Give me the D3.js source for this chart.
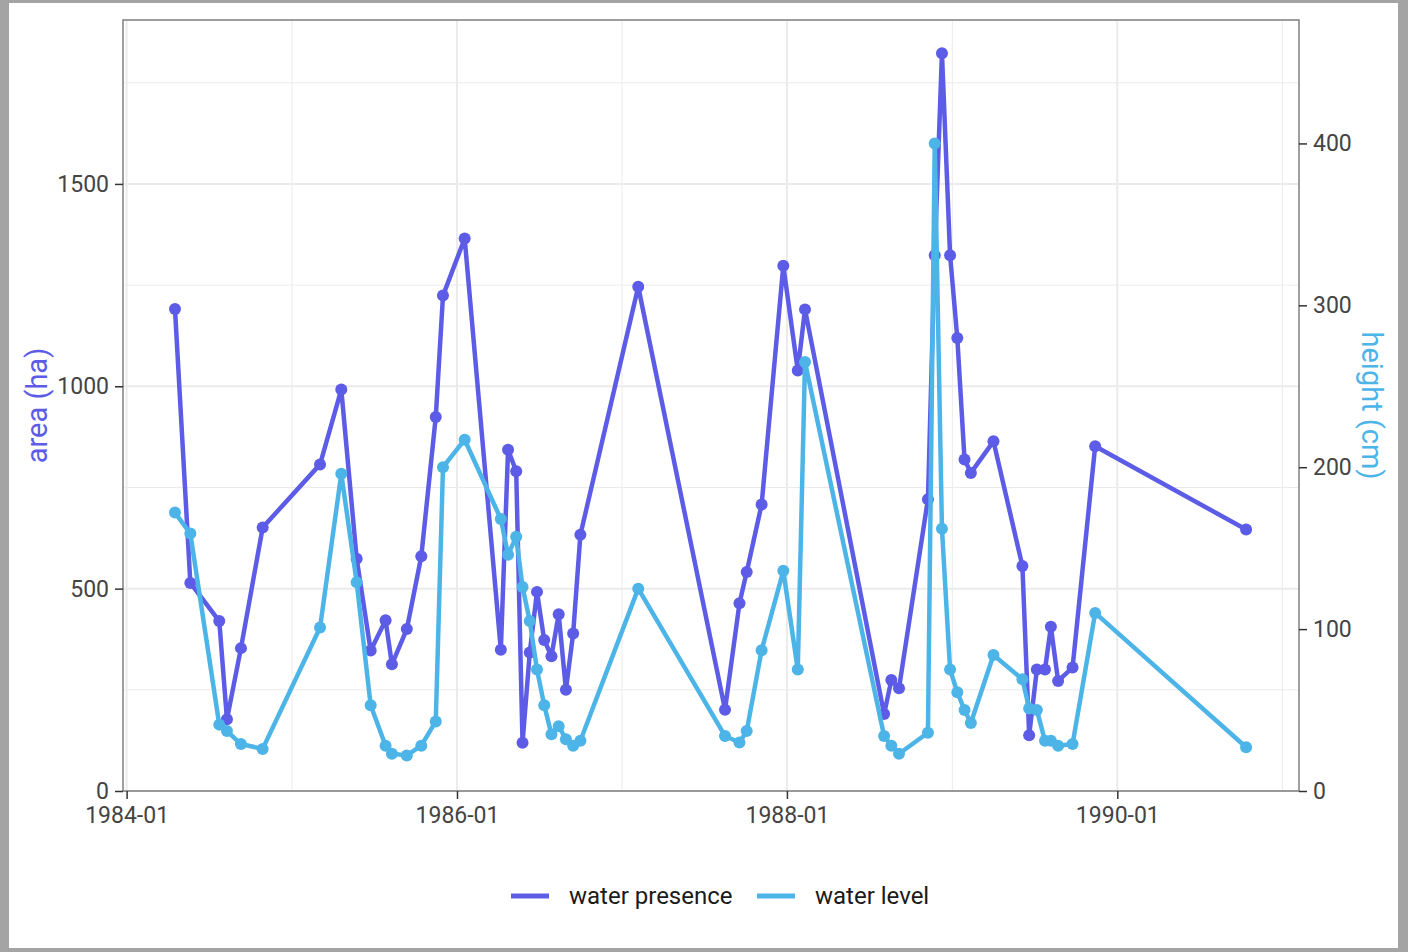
<!DOCTYPE html>
<html>
<head>
<meta charset="utf-8">
<script src="https://cdn.jsdelivr.net/npm/d3@7"></script>
<style>
  body { margin: 0; background: #a4a4a4; }
  svg { display: block; font-family: Roboto, "DejaVu Sans", sans-serif; }
</style>
</head>
<body>
<svg id="chart" width="1408" height="952"></svg>
<script>
// sample dates (both series measured on the same days)
var dates = [
  "1984-04-17","1984-05-21","1984-07-24","1984-08-10","1984-09-10","1984-10-28",
  "1985-03-04","1985-04-20","1985-05-24","1985-06-24","1985-07-27","1985-08-10",
  "1985-09-12","1985-10-14","1985-11-15","1985-12-01","1986-01-18","1986-04-08",
  "1986-04-24","1986-05-12","1986-05-26","1986-06-11","1986-06-27","1986-07-13",
  "1986-07-29","1986-08-14","1986-08-30","1986-09-15","1986-10-01","1987-02-06",
  "1987-08-17","1987-09-18","1987-10-04","1987-11-06","1987-12-24","1988-01-25",
  "1988-02-10","1988-08-03","1988-08-19","1988-09-05","1988-11-08","1988-11-23",
  "1988-12-09","1988-12-27","1989-01-12","1989-01-28","1989-02-11","1989-04-02",
  "1989-06-05","1989-06-20","1989-07-07","1989-07-25","1989-08-07","1989-08-23",
  "1989-09-24","1989-11-13","1990-10-13"
];

// water presence, area in ha
var area = [
  1191, 514, 420, 177, 353, 651,
  807, 992, 574, 347, 422, 313,
  400, 580, 924, 1224, 1365, 349,
  843, 790, 119, 342, 492, 373,
  333, 437, 250, 389, 633, 1246,
  201, 464, 541, 708, 1298, 1039,
  1190, 190, 274, 254, 721, 1324,
  1823, 1324, 1119, 819, 786, 864,
  556, 138, 300, 300, 406, 272,
  305, 852, 646
];

// water level, height in cm
var level = [
  172, 159, 41, 37, 29, 26,
  101, 196, 129, 53, 28, 23,
  22, 28, 43, 200, 217, 168,
  146, 157, 126, 105, 75, 53,
  35, 40, 32, 28, 31, 125,
  34, 30, 37, 87, 136, 75,
  265, 34, 28, 23, 36, 400,
  162, 75, 61, 50, 42, 84,
  69, 51, 50, 31, 31, 28,
  29, 110, 27
];

var seriesNames = ["water presence", "water level"];
var seriesColors = ["#5c5ce6", "#4db4e8"];

var areaTicks = [0, 500, 1000, 1500];
var areaMinor = [250, 750, 1250, 1750];
var levelTicks = [0, 100, 200, 300, 400];
var dateTicks = ["1984-01-01", "1986-01-01", "1988-01-01", "1990-01-01"];
var dateMinor = ["1985-01-01", "1987-01-01", "1989-01-01", "1991-01-01"];

var parse = d3.utcParse("%Y-%m-%d");

// panel edges
var panelL = 123, panelR = 1299, panelT = 20, panelB = 791;

var svg = d3.select("#chart");

// white sheet over the photo background
svg.append("rect")
  .attr("x", 9).attr("y", 3)
  .attr("width", 1389).attr("height", 945)
  .attr("fill", "#fff");

var x = d3.scaleUtc()
  .domain([parse("1983-12-24"), parse("1991-02-07")])
  .range([panelL, panelR]);

var yArea = d3.scaleLinear().domain([0, 1905]).range([panelB, panelT]);
var yLevel = d3.scaleLinear().domain([0, 1905 / 4]).range([panelB, panelT]);

// grid
var grid = svg.append("g");
grid.selectAll("line.hmin").data(areaMinor).enter().append("line")
  .attr("x1", panelL).attr("x2", panelR)
  .attr("y1", function(d) { return yArea(d); })
  .attr("y2", function(d) { return yArea(d); })
  .attr("stroke", "#ebebeb").attr("stroke-width", 1);
grid.selectAll("line.vmin").data(dateMinor).enter().append("line")
  .attr("y1", panelT).attr("y2", panelB)
  .attr("x1", function(d) { return x(parse(d)); })
  .attr("x2", function(d) { return x(parse(d)); })
  .attr("stroke", "#ebebeb").attr("stroke-width", 1);
grid.selectAll("line.hmaj").data(areaTicks).enter().append("line")
  .attr("x1", panelL).attr("x2", panelR)
  .attr("y1", function(d) { return yArea(d); })
  .attr("y2", function(d) { return yArea(d); })
  .attr("stroke", "#ebebeb").attr("stroke-width", 2);
grid.selectAll("line.vmaj").data(dateTicks).enter().append("line")
  .attr("y1", panelT).attr("y2", panelB)
  .attr("x1", function(d) { return x(parse(d)); })
  .attr("x2", function(d) { return x(parse(d)); })
  .attr("stroke", "#ebebeb").attr("stroke-width", 2);

// series
var rows = dates.map(function(d, i) {
  return { date: parse(d), area: area[i], level: level[i] };
});
var series = [
  { key: "area", scale: yArea },
  { key: "level", scale: yLevel }
];

series.forEach(function(s, k) {
  var line = d3.line()
    .x(function(d) { return x(d.date); })
    .y(function(d) { return s.scale(d[s.key]); });
  svg.append("path")
    .datum(rows)
    .attr("d", line)
    .attr("fill", "none")
    .attr("stroke", seriesColors[k])
    .attr("stroke-width", 4.5)
    .attr("stroke-linejoin", "round");
  svg.append("g").selectAll("circle")
    .data(rows).enter().append("circle")
    .attr("cx", function(d) { return x(d.date); })
    .attr("cy", function(d) { return s.scale(d[s.key]); })
    .attr("r", 6)
    .attr("fill", seriesColors[k]);
});

// panel border
svg.append("rect")
  .attr("x", panelL).attr("y", panelT)
  .attr("width", panelR - panelL).attr("height", panelB - panelT)
  .attr("fill", "none")
  .attr("stroke", "#7f7f7f")
  .attr("stroke-width", 1.5);

function styleAxis(g) {
  g.select(".domain").remove();
  g.selectAll(".tick line").attr("stroke", "#333").attr("stroke-width", 1.5);
  g.selectAll(".tick text")
    .attr("fill", "#444")
    .style("font-size", "23px")
    .style("font-family", "Roboto, sans-serif");
}

svg.append("g")
  .attr("transform", "translate(" + panelL + ",0)")
  .call(d3.axisLeft(yArea).tickValues(areaTicks).tickFormat(d3.format("d"))
    .tickSize(8).tickPadding(6))
  .call(styleAxis);

svg.append("g")
  .attr("transform", "translate(" + panelR + ",0)")
  .call(d3.axisRight(yLevel).tickValues(levelTicks).tickFormat(d3.format("d"))
    .tickSize(8).tickPadding(6))
  .call(styleAxis);

svg.append("g")
  .attr("transform", "translate(0," + panelB + ")")
  .call(d3.axisBottom(x).tickValues(dateTicks.map(parse))
    .tickFormat(d3.utcFormat("%Y-%m")).tickSize(8).tickPadding(8))
  .call(styleAxis);

// axis titles
svg.append("text")
  .attr("transform", "translate(37," + (panelT + panelB) / 2 + ") rotate(-90)")
  .attr("text-anchor", "middle")
  .attr("dy", "0.35em")
  .attr("fill", seriesColors[0])
  .style("font-size", "29px")
  .text("area (ha)");

svg.append("text")
  .attr("transform", "translate(1372," + (panelT + panelB) / 2 + ") rotate(90)")
  .attr("text-anchor", "middle")
  .attr("dy", "0.35em")
  .attr("fill", seriesColors[1])
  .style("font-size", "29px")
  .text("height (cm)");

// legend
var legendX = [511, 757];
var legend = svg.append("g").selectAll("g")
  .data(seriesNames).enter().append("g")
  .attr("transform", function(d, i) { return "translate(" + legendX[i] + ",896)"; });
legend.append("line")
  .attr("x1", 0).attr("x2", 38)
  .attr("stroke", function(d, i) { return seriesColors[i]; })
  .attr("stroke-width", 5);
legend.append("text")
  .attr("x", 58)
  .attr("dy", "0.35em")
  .attr("fill", "#1a1a1a")
  .style("font-size", "24px")
  .text(function(d) { return d; });
</script>
</body>
</html>
